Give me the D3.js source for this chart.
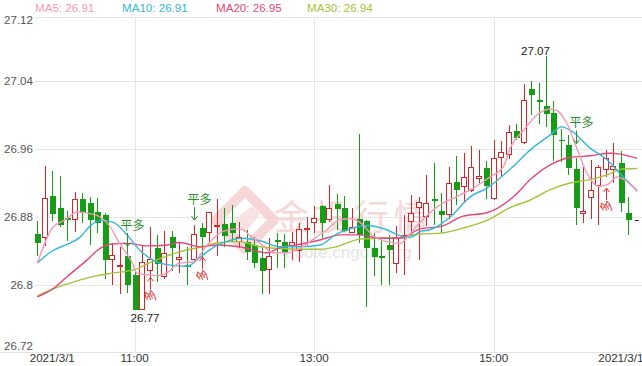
<!DOCTYPE html>
<html><head><meta charset="utf-8">
<script src="https://cdn.jsdelivr.net/npm/d3@7"></script>
<style>body{margin:0;background:#fff;} svg{display:block;font-family:"Liberation Sans",Arial,sans-serif;}</style>
</head><body><svg id="c" width="642" height="366"></svg>
<script>
// ---- data (5-minute candles, 2021/3/1) ----
const openP  = [26.860,26.855,26.905,26.891,26.879,26.877,26.901,26.897,26.886,26.882,
                26.829,26.821,26.834,26.812,26.770,26.816,26.844,26.810,26.856,26.830,
                26.824,26.829,26.867,26.861,26.869,26.872,26.873,26.851,26.851,26.847,
                26.832,26.818,26.853,26.851,26.845,26.840,26.866,26.873,26.893,26.876,
                26.895,26.890,26.861,26.878,26.875,26.843,26.834,26.847,26.825,26.855,
                26.874,26.891,26.880,26.901,26.887,26.882,26.921,26.915,26.911,26.925,
                26.938,26.901,26.950,26.953,26.981,26.967,27.031,27.018,27.010,27.002,
                26.971,26.965,26.936,26.883,26.902,26.916,26.935,26.935,26.943,26.885];
const highP  = [26.875,26.940,26.934,26.928,26.887,26.909,26.908,26.903,26.902,26.885,
                26.849,26.845,26.861,26.815,26.847,26.868,26.859,26.864,26.864,26.849,
                26.845,26.871,26.873,26.886,26.901,26.891,26.894,26.874,26.865,26.857,
                26.844,26.855,26.861,26.860,26.862,26.873,26.880,26.893,26.894,26.918,
                26.907,26.905,26.891,26.978,26.876,26.861,26.853,26.859,26.869,26.882,
                26.906,26.904,26.929,26.943,26.908,26.939,26.952,26.955,26.964,26.959,
                26.946,26.971,26.969,26.988,26.989,27.037,27.040,27.038,27.070,27.016,
                26.983,26.977,26.949,26.939,26.947,26.941,26.959,26.967,26.958,26.904];
const lowP   = [26.834,26.846,26.875,26.868,26.852,26.862,26.873,26.847,26.861,26.807,
                26.800,26.790,26.791,26.770,26.770,26.800,26.804,26.807,26.816,26.814,
                26.800,26.827,26.833,26.851,26.834,26.845,26.850,26.844,26.829,26.820,
                26.790,26.790,26.820,26.820,26.829,26.827,26.847,26.861,26.855,26.874,
                26.865,26.862,26.861,26.849,26.774,26.811,26.800,26.800,26.814,26.812,
                26.859,26.830,26.869,26.871,26.861,26.878,26.894,26.896,26.909,26.920,
                26.901,26.900,26.928,26.948,26.971,26.966,27.000,26.990,26.986,26.946,
                26.945,26.929,26.871,26.873,26.878,26.871,26.927,26.920,26.886,26.859];
const closeP = [26.849,26.902,26.884,26.870,26.876,26.901,26.885,26.876,26.873,26.829,
                26.835,26.824,26.800,26.771,26.827,26.831,26.825,26.838,26.843,26.833,
                26.821,26.860,26.856,26.886,26.871,26.858,26.861,26.857,26.839,26.826,
                26.816,26.834,26.851,26.838,26.850,26.866,26.867,26.879,26.873,26.891,
                26.889,26.863,26.868,26.859,26.844,26.833,26.832,26.841,26.857,26.859,
                26.885,26.898,26.896,26.899,26.882,26.920,26.912,26.927,26.939,26.928,
                26.916,26.949,26.956,26.980,26.973,27.018,27.024,27.015,27.001,26.976,
                26.970,26.938,26.891,26.887,26.912,26.939,26.949,26.940,26.896,26.876];

// moving averages: [candle index, value]
const ma5 = [[0,26.826],[1,26.849],[2,26.867],[4,26.878],[5.3,26.886],[7,26.884],[8.4,26.880],
  [9.7,26.869],[11,26.849],[12.7,26.826],[13.3,26.814],[14.7,26.812],[16,26.811],[17.3,26.814],
  [19,26.826],[20.8,26.827],[22.7,26.847],[24.8,26.863],[26.7,26.866],[27.5,26.865],[28.3,26.859],
  [29.8,26.849],[31.5,26.838],[33.4,26.838],[35.1,26.843],[36.9,26.854],[38.7,26.865],[40.5,26.877],
  [41.8,26.878],[43.1,26.874],[44.9,26.858],[46.7,26.851],[48.5,26.849],[49.9,26.861],[51.2,26.874],
  [53.8,26.894],[56.1,26.904],[58.3,26.914],[60.5,26.927],[62.3,26.939],[63.2,26.961],[65,26.982],
  [66.8,27.000],[68.5,27.007],[69.5,27.005],[70.8,26.990],[72.2,26.959],[73.5,26.931],[75,26.916],
  [76.2,26.918],[77.5,26.927],[78.6,26.923],[80.2,26.910]];
const ma10 = [[0,26.826],[2,26.840],[4,26.848],[5.7,26.856],[7,26.869],[8.4,26.876],[10.1,26.874],
  [12,26.859],[13.7,26.841],[15.5,26.829],[17.3,26.824],[20,26.822],[21.8,26.833],[23.5,26.844],
  [24.4,26.848],[27.5,26.855],[29.8,26.852],[32.5,26.845],[35.1,26.845],[37.8,26.847],[40,26.860],
  [41.8,26.866],[44,26.870],[46.7,26.865],[48.5,26.858],[49.9,26.856],[51.2,26.863],[52.5,26.865],
  [55.2,26.880],[57.9,26.904],[60.1,26.914],[63.8,26.941],[65.9,26.959],[68.5,26.976],[70.1,26.986],
  [71.6,26.980],[73.9,26.961],[76.2,26.947],[77.9,26.931],[80.2,26.911]];
const ma20 = [[0,26.786],[2,26.795],[4,26.810],[6.6,26.829],[8.4,26.843],[9.7,26.848],[12,26.849],
  [14.7,26.846],[17.3,26.847],[19,26.850],[21.8,26.845],[24,26.847],[27,26.845],[30.7,26.838],
  [32.5,26.844],[35.1,26.848],[37.8,26.853],[40.5,26.859],[43.1,26.859],[45.8,26.855],[48.5,26.855],
  [51.2,26.866],[54,26.869],[56.9,26.881],[60.1,26.885],[63.8,26.905],[65.9,26.924],[68.5,26.941],
  [71.2,26.950],[73.9,26.952],[76.6,26.955],[77.9,26.954],[80.2,26.949]];
const ma30 = [[0,26.787],[2,26.795],[5,26.804],[8,26.811],[10,26.814],[13,26.818],[15,26.826],
  [17,26.833],[19,26.839],[22,26.845],[24.4,26.850],[27,26.851],[29.8,26.845],[32.5,26.843],
  [35.1,26.842],[37.8,26.842],[40,26.845],[43.1,26.854],[45.8,26.855],[48.5,26.856],[51.2,26.860],
  [54,26.861],[56.9,26.867],[60.1,26.876],[63.2,26.891],[65.9,26.900],[68.5,26.912],[71.2,26.920],
  [73.9,26.924],[76.6,26.931],[77.9,26.936],[80.2,26.937]];

const legendNames  = ["MA5","MA10","MA20","MA30"];
const legendValues = ["26.91","26.91","26.95","26.94"];
const yTicks = [26.72, 26.8, 26.88, 26.96, 27.04, 27.12];
const xTickIdx = [2, 13, 37, 61, 78];
const xTickLabels = ["2021/3/1","11:00","13:00","15:00","2021/3/1"];
// signals: green = 平多 (arrow down), red = 多 (arrow up)
const sigClose = [[12, 26.870],[21, 26.901],[72, 26.991]];
const sigOpen  = [[15, 26.809],[22, 26.833],[76, 26.914]];
const maxIdx = 68, minIdx = 13;

// ---- drawing ----
const W = 642, H = 366;
const RED = "#d42626", GREEN = "#169c16";
const maColors = ["#f49ab8","#36b6d8","#e2477c","#a6c23a"];
const svg = d3.select("#c");
const x = d3.scaleLinear().domain([0, 79]).range([37.3, 628.3]);
const y = d3.scaleLinear().domain([26.72, 27.12]).range([353, 13]);
const px = v => Math.round(v) + 0.5;

// grid
const g = svg.append("g");
yTicks.filter(v => v > 26.72 && v < 27.12).forEach(v => {
  g.append("line").attr("x1", 35).attr("x2", W).attr("y1", px(y(v))).attr("y2", px(y(v)))
    .attr("stroke", "#e6e6e6");
});
g.append("line").attr("x1", 35).attr("x2", W).attr("y1", 17.5).attr("y2", 17.5).attr("stroke", "#e6e6e6");
g.append("line").attr("x1", 0).attr("x2", W).attr("y1", 352.5).attr("y2", 352.5).attr("stroke", "#e2e2e2");
xTickIdx.slice(1, 4).forEach(i => {
  g.append("line").attr("x1", px(x(i))).attr("x2", px(x(i))).attr("y1", 17).attr("y2", 353)
    .attr("stroke", "#e6e6e6");
});

// y labels
yTicks.forEach((v, k) => {
  const ty = Math.max(19.5, Math.min(345.5, y(v)));
  svg.append("text").attr("x", 33).attr("y", ty).attr("dy", "0.36em").attr("text-anchor", "end")
    .attr("font-size", 11.6).attr("fill", "#555").text(d3.format("~g")(v));
});
// x labels
xTickIdx.forEach((i, k) => {
  svg.append("text").attr("x", x(i)).attr("y", 361.5).attr("text-anchor", "middle")
    .attr("font-size", 11.6).attr("fill", "#333").text(xTickLabels[k]);
});

// watermark
const wm = svg.append("g").attr("opacity", 0.75);
wm.append("path").attr("d", "M245,191 L274,220 L245,249 L216,220 Z")
  .attr("fill", "none").attr("stroke", "#f3c9c9").attr("stroke-width", 10).attr("stroke-linejoin", "round");
wm.append("path").attr("d", "M232,222 L252,206 L260,214 L246,232 Z").attr("fill", "#f6dada");
wm.append("text").attr("x", 274).attr("y", 230).attr("font-size", 35).attr("letter-spacing", 5)
  .attr("font-family", "Noto Sans CJK SC").attr("fill", "#f3cccc").text("金投行情");
wm.append("text").attr("x", 285).attr("y", 258).attr("font-size", 17).attr("fill", "#dcdcdc")
  .text("quote.cngold.org");

// candles
const candles = svg.append("g");
d3.range(openP.length).forEach(i => {
  const up = closeP[i] >= openP[i];
  const col = up ? RED : GREEN;
  const cx = Math.round(x(i));
  candles.append("line").attr("x1", cx + 0.5).attr("x2", cx + 0.5)
    .attr("y1", Math.round(y(highP[i]))).attr("y2", Math.round(y(lowP[i])))
    .attr("stroke", col).attr("stroke-width", 1);
  const top = Math.round(y(Math.max(openP[i], closeP[i])));
  const bot = Math.round(y(Math.min(openP[i], closeP[i])));
  const h = Math.max(1, bot - top);
  if (up) {
    candles.append("rect").attr("x", cx - 2.5).attr("y", top + 0.5)
      .attr("width", 5).attr("height", Math.max(1, h - 1))
      .attr("fill", "#fff").attr("stroke", col).attr("stroke-width", 1);
  } else {
    candles.append("rect").attr("x", cx - 2).attr("y", top).attr("width", 6).attr("height", h)
      .attr("fill", col);
  }
});

// MA lines
const line = d3.line().x(d => x(d[0])).y(d => y(d[1])).curve(d3.curveMonotoneX);
[ma30, ma20, ma10, ma5].forEach((s, k) => {
  svg.append("path").datum(s).attr("d", line).attr("fill", "none")
    .attr("stroke", maColors[3 - k]).attr("stroke-width", 1.4);
});

// legend
const legendX = [35, 122, 216, 307];
legendNames.forEach((n, k) => {
  svg.append("text").attr("x", legendX[k]).attr("y", 11.5).attr("font-size", 11.6)
    .attr("fill", maColors[k]).text(n + ": " + legendValues[k]);
});

// max / min labels
svg.append("text").attr("x", x(maxIdx) + 4).attr("y", 55).attr("text-anchor", "end")
  .attr("font-size", 11.6).attr("fill", "#222").text(d3.format(".2f")(highP[maxIdx]));
svg.append("text").attr("x", x(minIdx) - 4).attr("y", 322).attr("text-anchor", "start")
  .attr("font-size", 11.6).attr("fill", "#222").text(d3.format(".2f")(lowP[minIdx]));

// last price dash
svg.append("line").attr("x1", x(80) - 1).attr("x2", x(80) + 3)
  .attr("y1", px(y(closeP[79]))).attr("y2", px(y(closeP[79]))).attr("stroke", "#222");

// signals
const sg = svg.append("g").attr("font-family", "Noto Sans CJK SC");
sigClose.forEach(([i, p]) => {
  const cx = px(x(i)), cy = y(p);
  sg.append("text").attr("x", cx + 5).attr("y", cy).attr("dy", "0.38em").attr("text-anchor", "middle")
    .attr("font-size", 12).attr("fill", "#2a8c2a").text("平多");
  sg.append("path").attr("d", `M${cx},${cy + 8} V${cy + 21} M${cx - 3},${cy + 17} L${cx},${cy + 21} L${cx + 3},${cy + 17}`)
    .attr("fill", "none").attr("stroke", "#2a8c2a").attr("stroke-width", 1);
});
sigOpen.forEach(([i, p]) => {
  const cx = px(x(i)), cy = y(p);
  sg.append("path").attr("d", `M${cx},${cy} V${cy + 12} M${cx - 3},${cy + 4} L${cx},${cy} L${cx + 3},${cy + 4}`)
    .attr("fill", "none").attr("stroke", "#e03030").attr("stroke-width", 1);
  sg.append("text").attr("transform", `translate(${cx},${cy + 18}) rotate(-90)`)
    .attr("dy", "0.38em").attr("text-anchor", "middle")
    .attr("font-size", 12).attr("fill", "#e03030").text("多");
});
</script></body></html>
